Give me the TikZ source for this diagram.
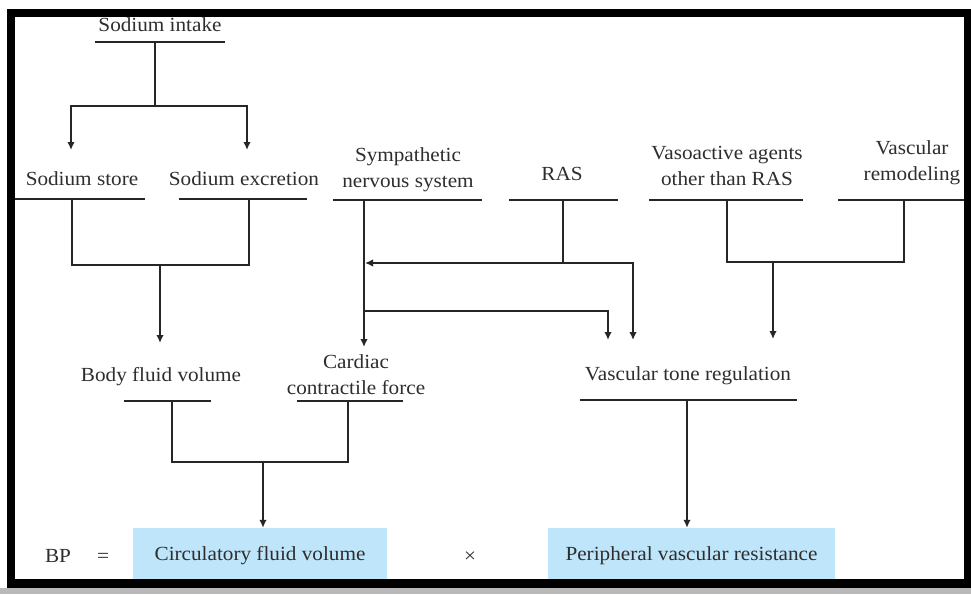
\documentclass[tikz,border=0pt]{standalone}
\usepackage{fontspec}
\setmainfont{Liberation Serif}[FakeStretch=1.06]
\usetikzlibrary{arrows.meta}
\definecolor{boxblue}{RGB}{190,229,249}
\begin{document}
\begin{tikzpicture}[x=1pt,y=-1pt,
  lbl/.style={font=\fontsize{20}{26}\selectfont, text=black!82, inner sep=0pt, outer sep=0pt, align=center},
  bar/.style={fill=black!85, inner sep=0pt, outer sep=0pt, minimum height=2.4pt},
  ln/.style={line width=2.1pt, draw=black!85},
  arr/.style={ln, -{Latex[length=8pt,width=7.5pt]}},
  bluebox/.style={fill=boxblue, inner sep=0pt, minimum height=55pt, font=\fontsize{20}{26}\selectfont, text=black!82},
  ]
\useasboundingbox (0,0) rectangle (971,594);
\fill[white] (0,0) rectangle (971,594);
\fill[gray!55] (0,588) rectangle (971,594);

% text labels (anchor base = baseline of last line)
\node[lbl, anchor=base] (si) at (160,32) {Sodium intake};
\node[lbl, anchor=base] (store) at (82,185) {Sodium store};
\node[lbl, anchor=base] (exc) at (244,185) {Sodium excretion};
\node[lbl, anchor=base] (sym) at (408,187) {Sympathetic\\nervous system};
\node[lbl, anchor=base] (ras) at (562,180) {RAS};
\node[lbl, anchor=base] (vaso) at (727,185) {Vasoactive agents\\other than RAS};
\node[lbl, anchor=base] (rem) at (912,180) {Vascular\\remodeling};
\node[lbl, anchor=base] (body) at (161,381) {Body fluid volume};
\node[lbl, anchor=base] (card) at (356,394) {Cardiac\\contractile force};
\node[lbl, anchor=base] (vtr) at (688,380) {Vascular tone regulation};

% underline bars
\node[bar, minimum width=130pt] (siBar) at (160,42) {};
\node[bar, minimum width=130pt] (storeBar) at (80,199) {};
\node[bar, minimum width=128pt] (excBar) at (243,199) {};
\node[bar, minimum width=149pt] (symBar) at (407.5,200) {};
\node[bar, minimum width=109pt] (rasBar) at (563.5,200) {};
\node[bar, minimum width=154pt] (vasoBar) at (726,200) {};
\node[bar, minimum width=127pt] (remBar) at (901.5,200) {};
\node[bar, minimum width=87pt] (bodyBar) at (167.5,401) {};
\node[bar, minimum width=106pt] (cardBar) at (350,401) {};
\node[bar, minimum width=217pt] (vtrBar) at (688.5,400) {};

% bottom equation
\node[bluebox, minimum width=254pt] (cfv) at (260,555.5) {Circulatory fluid volume};
\node[bluebox, minimum width=287pt] (pvr) at (691.5,555.5) {Peripheral vascular resistance};
\node[lbl, anchor=base] (bp) at (58,562) {BP};
\node[lbl, anchor=base] (eq) at (103,562) {=};
\node[lbl, anchor=base] (times) at (470,562) {×};

% junction coordinates
\coordinate (j1) at (155,106);
\coordinate (a1) at (71,150);
\coordinate (a2) at (247,150);
\coordinate (c1) at (72,265);
\coordinate (c2) at (249,265);
\coordinate (c3) at (160,265);
\coordinate (a3) at (160,343);
\coordinate (s1) at (364,311);
\coordinate (a4) at (364,347);
\coordinate (a5) at (608,340);
\coordinate (r1) at (563,263);
\coordinate (r2) at (365,263);
\coordinate (a6) at (633,340);
\coordinate (v1) at (727,262);
\coordinate (v2) at (904,262);
\coordinate (v3) at (773,262);
\coordinate (a7) at (773,339);
\coordinate (b1) at (172,462);
\coordinate (b2) at (348,462);
\coordinate (b3) at (263,462);
\coordinate (t1) at (687,450);

% connectors
\draw[ln] (siBar.south -| j1) -- (j1);
\draw[arr] (j1) -| (a1);
\draw[arr] (j1) -| (a2);

\draw[ln] (storeBar.south -| c1) -- (c1) -- (c2) -- (excBar.south -| c2);
\draw[arr] (c3) -- (a3);

\draw[arr] (symBar.south -| a4) -- (a4);
\draw[arr] (s1) -| (a5);

\draw[ln] (rasBar.south -| r1) -- (r1);
\draw[arr] (r1) -- (r2);
\draw[arr] (r1) -| (a6);

\draw[ln] (vasoBar.south -| v1) -- (v1) -- (v2) -- (remBar.south -| v2);
\draw[arr] (v3) -- (a7);

\draw[ln] (bodyBar.south -| b1) -- (b1) -- (b2) -- (cardBar.south -| b2);
\draw[arr] (b3) -- (cfv.north -| b3);

\draw[arr] (vtrBar.south -| t1) -- (pvr.north -| t1);

% frame
\draw[line width=8.5pt, draw=black] (11,13) rectangle (968.5,583.5);
\end{tikzpicture}
\end{document}
